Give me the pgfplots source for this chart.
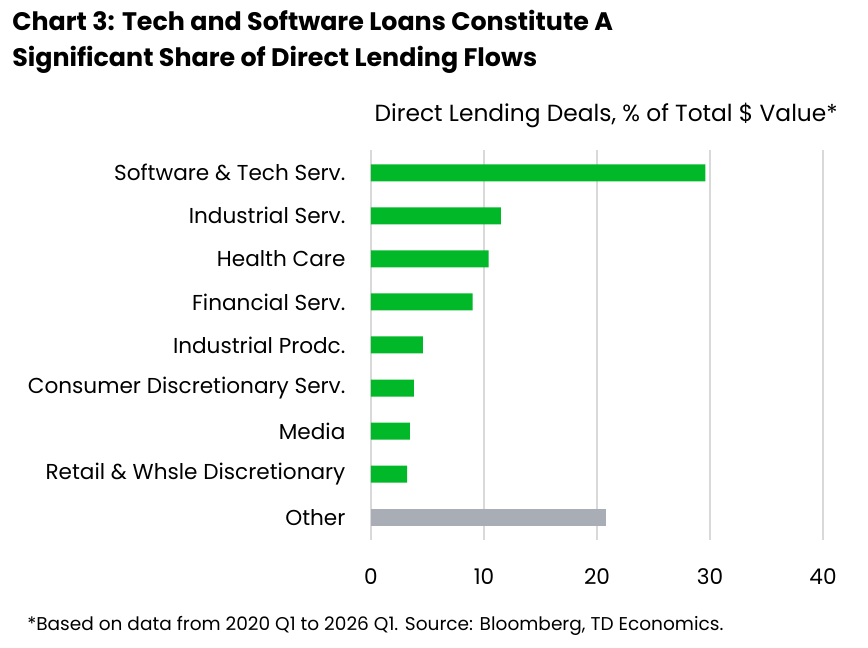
\documentclass[border=0pt]{standalone}
\usepackage{pgfplots}
\pgfplotsset{compat=1.18}
\usepackage{fontspec}
\setmainfont{Poppins}
\definecolor{tdgreen}{HTML}{00B828}
\definecolor{othergrey}{HTML}{A9AEB6}
\definecolor{gridgrey}{HTML}{D9D9D9}
\begin{document}
\begin{tikzpicture}[x=0.75pt,y=0.75pt]
\path[use as bounding box] (0,0) rectangle (868,648);
% title
\node[anchor=base west, inner sep=0, font=\bfseries\fontsize{19}{22}\selectfont] at (12,617) {Chart 3: Tech and Software Loans Constitute A};
\node[anchor=base west, inner sep=0, font=\bfseries\fontsize{19}{22}\selectfont] at (12,581) {Significant Share of Direct Lending Flows};
% axis caption
\node[anchor=base east, inner sep=0, font=\fontsize{17.5}{20}\selectfont] at (838,526) {Direct Lending Deals, \% of Total \$ Value*};
% footnote
\node[anchor=base west, inner sep=0, font=\fontsize{13.9}{16}\selectfont] at (27,17) {*Based on data from 2020 Q1 to 2026 Q1. Source: Bloomberg, TD Economics.};
\begin{axis}[
  at={(278.25pt,81pt)}, anchor=south west,
  scale only axis, width=339pt, height=292.5pt,
  xmin=0, xmax=40, ymin=-0.53, ymax=8.53,
  y dir=reverse,
  xbar, bar width=12.75pt, bar shift=0pt,
  axis line style={draw=none},
  major tick length=0pt,
  xtick={0,10,20,30,40},
  ytick={0,...,8},
  yticklabels={Software \& Tech Serv., Industrial Serv., Health Care, Financial Serv., Industrial Prodc., Consumer Discretionary Serv., Media, Retail \& Whsle Discretionary, Other},
  xmajorgrids, ymajorgrids=false,
  major grid style={draw=gridgrey, line width=2pt},
  /pgf/number format/assume math mode=true,
  ticklabel style={font=\fontsize{16.2}{19}\selectfont, inner sep=0pt},
  xticklabel style={anchor=north},
  yticklabel style={anchor=east},
  xticklabel shift=21pt,
  yticklabel shift=19pt,
  clip=false,
]
% industry shares
\addplot[fill=tdgreen, draw=none] coordinates {
  (29.6,0) (11.5,1) (10.4,2) (9.0,3) (4.6,4) (3.8,5) (3.45,6) (3.2,7)
};
% remaining share
\addplot[fill=othergrey, draw=none] coordinates {(20.8,8)};
\end{axis}
\end{tikzpicture}
\end{document}
